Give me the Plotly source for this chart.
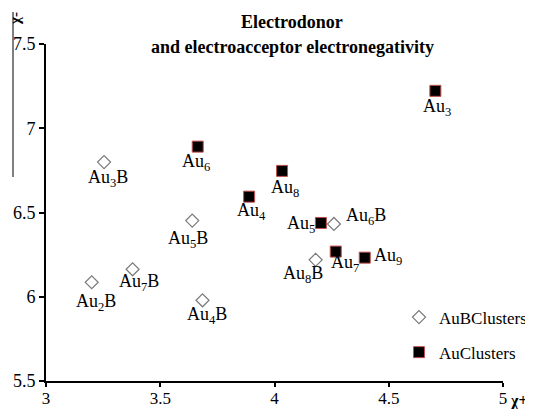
import plotly.graph_objects as go

# ---- data ----
aub_labels = ["Au<sub>2</sub>B", "Au<sub>3</sub>B", "Au<sub>4</sub>B", "Au<sub>5</sub>B",
              "Au<sub>6</sub>B", "Au<sub>7</sub>B", "Au<sub>8</sub>B"]
aub_x = [3.20, 3.254, 3.685, 3.64, 4.26, 3.379, 4.18]
aub_y = [6.086, 6.799, 5.979, 6.452, 6.432, 6.163, 6.219]

au_labels = ["Au<sub>3</sub>", "Au<sub>4</sub>", "Au<sub>5</sub>", "Au<sub>6</sub>",
             "Au<sub>7</sub>", "Au<sub>8</sub>", "Au<sub>9</sub>"]
au_x = [4.704, 3.889, 4.203, 3.664, 4.268, 4.033, 4.395]
au_y = [7.222, 6.594, 6.438, 6.891, 6.268, 6.747, 6.232]

x_ticks = [3, 3.5, 4, 4.5, 5]
y_ticks = [5.5, 6, 6.5, 7, 7.5]

# label offsets in pixels (style only)
aub_off = [(4, 20), (4, 16), (4, 15), (-4, 19), (32, -7), (6, 13), (-13, 15)]
au_off = [(2, 17), (2, 15), (-20, 2), (-2, 16), (9, 12), (3, 18), (23, -1)]

FONT = "Liberation Serif, Times New Roman, serif"
fig = go.Figure()

fig.add_trace(go.Scatter(
    x=aub_x, y=aub_y, mode="markers", name="AuBClusters",
    legendgroup="a",
    marker=dict(symbol="diamond", size=10, color="white",
                line=dict(color="#7a7a7a", width=1.2)),
    cliponaxis=False,
))
fig.add_trace(go.Scatter(
    x=au_x, y=au_y, mode="markers", name="AuClusters",
    legendgroup="b",
    marker=dict(symbol="square", size=11, color="black",
                line=dict(color="#c0504d", width=1)),
    cliponaxis=False,
))

annotations = []
for lab, xv, yv, (dx, dy) in zip(aub_labels + au_labels, aub_x + au_x, aub_y + au_y,
                                 aub_off + au_off):
    annotations.append(dict(x=xv, y=yv, xref="x", yref="y", text=lab, showarrow=False,
                            xanchor="center", yanchor="middle", xshift=dx, yshift=-dy,
                            font=dict(family=FONT, size=18, color="black")))

# The page body has an 8px margin, so the figure starts at (8, 8) in the window.
OFF = 8
PW, PH = 457, 337  # plot width / height in px


def px(xp):
    return (xp - 46) / PW


def py(yp):
    return (381 - yp) / PH


annotations.append(dict(x=px(292), y=py(22), xref="paper", yref="paper",
                        text="<b>Electrodonor</b>",
                        showarrow=False, xanchor="center", yanchor="middle",
                        font=dict(family=FONT, size=18, color="black")))
annotations.append(dict(x=px(292), y=py(47), xref="paper", yref="paper",
                        text="<b>and electroacceptor electronegativity</b>",
                        showarrow=False, xanchor="center", yanchor="middle",
                        font=dict(family=FONT, size=18, color="black")))
annotations.append(dict(x=px(15), y=py(19), xref="paper", yref="paper",
                        text="<b>χ-</b>", textangle=-90, showarrow=False,
                        xanchor="center", yanchor="middle",
                        font=dict(family=FONT, size=15, color="black")))
annotations.append(dict(x=px(519), y=py(401), xref="paper", yref="paper",
                        text="<b>χ+</b>", showarrow=False,
                        xanchor="center", yanchor="middle",
                        font=dict(family=FONT, size=16, color="black")))

fig.update_layout(
    width=533 - OFF, height=409 - OFF,
    margin=dict(l=46 - OFF, r=30, t=44 - OFF, b=28, pad=0, autoexpand=False),
    paper_bgcolor="white", plot_bgcolor="white",
    font=dict(family=FONT, size=18, color="black"),
    showlegend=True,
    legend=dict(x=px(399), y=py(299.5), xanchor="left", yanchor="top",
                traceorder="grouped", tracegroupgap=10,
                font=dict(family=FONT, size=17, color="black"),
                bgcolor="rgba(0,0,0,0)", borderwidth=0),
    annotations=annotations,
    shapes=[dict(type="line", xref="paper", yref="paper",
                 x0=px(13), x1=px(13), y0=py(12), y1=py(177),
                 line=dict(color="black", width=1))],
)
fig.update_xaxes(range=[3, 5], tickvals=x_ticks, ticktext=[str(v) for v in x_ticks],
                 automargin=False, ticklabelstandoff=-3,
                 showgrid=False, zeroline=False, showline=True, linecolor="black",
                 linewidth=2, ticks="outside", ticklen=4, tickwidth=2, tickcolor="black",
                 tickfont=dict(family=FONT, size=17, color="black"))
fig.update_yaxes(range=[5.5, 7.5], tickvals=y_ticks, ticktext=[str(v) for v in y_ticks],
                 automargin=False,
                 showgrid=False, zeroline=False, showline=True, linecolor="black",
                 linewidth=2, ticks="outside", ticklen=5, tickwidth=2, tickcolor="black",
                 tickfont=dict(family=FONT, size=18, color="black"))

fig.write_html("out.html")
